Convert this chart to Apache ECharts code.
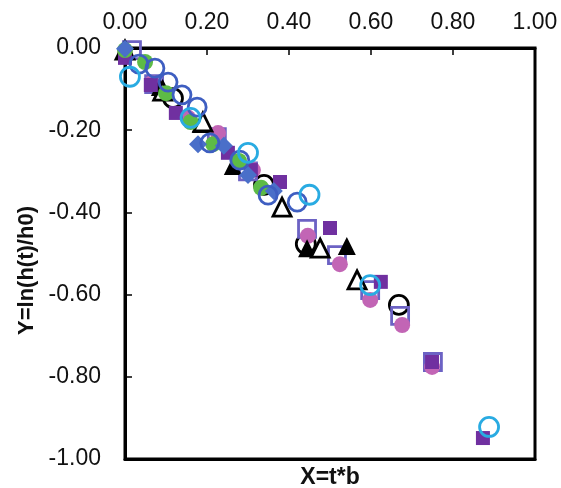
<!DOCTYPE html>
<html>
<head>
<meta charset="utf-8">
<script src="https://cdn.jsdelivr.net/npm/echarts@6/dist/echarts.min.js"></script>
<style>
  html, body { margin: 0; padding: 0; background: #fff; }
  #chart { width: 561px; height: 488px; }
</style>
</head>
<body>
<div id="chart"></div>
<script>
// tick labels
var xTicks = [0, 0.2, 0.4, 0.6, 0.8, 1.0];
var yTicks = [0, -0.2, -0.4, -0.6, -0.8, -1.0];

// series data (x = t*b, y = ln(h(t)/h0))
var blackCircleX = [0.117, 0.339, 0.441, 0.668];
var blackCircleY = [-0.122, -0.333, -0.477, -0.625];

var openSquareX = [0.017, 0.071, 0.224, 0.300, 0.444, 0.517, 0.598, 0.671, 0.751];
var openSquareY = [-0.005, -0.088, -0.217, -0.300, -0.440, -0.504, -0.589, -0.652, -0.764];

var pinkX = [0.0, 0.066, 0.154, 0.227, 0.312, 0.446, 0.524, 0.598, 0.676, 0.749];
var pinkY = [-0.015, -0.085, -0.170, -0.207, -0.297, -0.457, -0.526, -0.613, -0.674, -0.776];

var blackTriX = [0.0, 0.085, 0.185, 0.263, 0.444, 0.541];
var blackTriY = [-0.005, -0.095, -0.185, -0.287, -0.487, -0.482];

var openTriX = [0.0, 0.092, 0.190, 0.383, 0.476, 0.566];
var openTriY = [-0.005, -0.105, -0.180, -0.387, -0.487, -0.564];

var purpleSqX = [0.0, 0.063, 0.124, 0.251, 0.307, 0.378, 0.500, 0.624, 0.749, 0.873];
var purpleSqY = [-0.024, -0.090, -0.158, -0.255, -0.297, -0.326, -0.438, -0.569, -0.764, -0.949];

var greenX = [0.0, 0.049, 0.100, 0.160, 0.215, 0.278, 0.332];
var greenY = [-0.005, -0.034, -0.110, -0.180, -0.234, -0.275, -0.340];

var diamondX = [0.0, 0.178, 0.241, 0.300, 0.363];
var diamondY = [-0.002, -0.234, -0.238, -0.309, -0.348];

var blueCircleX = [0.034, 0.073, 0.105, 0.139, 0.176, 0.207, 0.280, 0.349, 0.420];
var blueCircleY = [-0.039, -0.049, -0.083, -0.114, -0.144, -0.231, -0.273, -0.358, -0.375];

var cyanX = [0.012, 0.160, 0.300, 0.450, 0.598, 0.888];
var cyanY = [-0.070, -0.170, -0.255, -0.357, -0.577, -0.922];

function pairs(xs, ys) {
  return xs.map(function (x, i) { return [x, ys[i]]; });
}

function openMark(name, xs, ys, symbol, size, color) {
  return {
    name: name, type: 'scatter', data: pairs(xs, ys),
    symbol: symbol, symbolSize: size,
    itemStyle: { color: '#fff', opacity: 1, borderColor: color, borderWidth: 2.8 },
    emphasis: { disabled: true }
  };
}
function fillMark(name, xs, ys, symbol, size, color) {
  return {
    name: name, type: 'scatter', data: pairs(xs, ys),
    symbol: symbol, symbolSize: size,
    itemStyle: { color: color, opacity: 1 },
    emphasis: { disabled: true }
  };
}
function hollow(s) { s.itemStyle.color = 'rgba(0,0,0,0)'; return s; }

var fmt = function (v) { return v.toFixed(2); };

var chart = echarts.init(document.getElementById('chart'));
var option = {
  animation: false,
  backgroundColor: '#fff',
  grid: {
    left: 125, right: 26, top: 48, bottom: 29,
    outerBoundsMode: 'none', containLabel: false,
    show: true, borderColor: '#000', borderWidth: 3, backgroundColor: 'transparent'
  },
  xAxis: [
    {
      type: 'value', position: 'top', min: 0, max: 1, interval: 0.2,
      axisLine: { show: true, onZero: false, lineStyle: { color: '#000', width: 3 } },
      axisTick: { show: true, inside: true, length: 7, lineStyle: { color: '#000', width: 1.5 } },
      axisLabel: { margin: 14, fontSize: 23, color: '#111', fontFamily: 'Liberation Sans, Arial', formatter: fmt },
      splitLine: { show: false }
    },
    {
      type: 'value', position: 'bottom', min: 0, max: 1,
      axisLine: { show: true, onZero: false, lineStyle: { color: '#000', width: 3 } },
      axisTick: { show: false }, axisLabel: { show: false }, splitLine: { show: false },
      name: 'X=t*b', nameLocation: 'middle', nameGap: 7,
      nameTextStyle: { fontSize: 23, fontWeight: 'bold', color: '#111', fontFamily: 'Liberation Sans, Arial' }
    }
  ],
  yAxis: {
    type: 'value', min: -1, max: 0, interval: 0.2,
    axisLine: { show: true, onZero: false, lineStyle: { color: '#000', width: 3 } },
    axisTick: { show: true, inside: true, length: 7, lineStyle: { color: '#000', width: 1.5 } },
    axisLabel: { margin: 24, fontSize: 23, color: '#111', fontFamily: 'Liberation Sans, Arial', formatter: fmt },
    splitLine: { show: false },
    name: 'Y=ln(h(t)/h0)', nameLocation: 'middle', nameGap: 86, nameRotate: 90,
    nameTextStyle: {
      fontSize: 22, fontWeight: 'bold', color: '#111', fontFamily: 'Liberation Sans, Arial',
      padding: [0, 34, 0, 0]
    }
  },
  series: [
    hollow(openMark('blackCircle', blackCircleX, blackCircleY, 'circle', 19, '#000')),
    hollow(openMark('openSquare', openSquareX, openSquareY, 'rect', 17, '#6C62C4')),
    fillMark('pink', pinkX, pinkY, 'circle', 16, '#C265B5'),
    fillMark('blackTri', blackTriX, blackTriY, 'triangle', 18, '#000'),
    openMark('openTri', openTriX, openTriY, 'triangle', 18, '#000'),
    fillMark('purpleSq', purpleSqX, purpleSqY, 'rect', 14, '#7030A0'),
    fillMark('green', greenX, greenY, 'circle', 16, '#5DBB46'),
    fillMark('diamond', diamondX, diamondY, 'diamond', 18, '#4A6FC9'),
    hollow(openMark('blueCircle', blueCircleX, blueCircleY, 'circle', 18, '#3E5EC1')),
    hollow(openMark('cyan', cyanX, cyanY, 'circle', 19, '#29ABE2'))
  ]
};
chart.setOption(option);
</script>
</body>
</html>
